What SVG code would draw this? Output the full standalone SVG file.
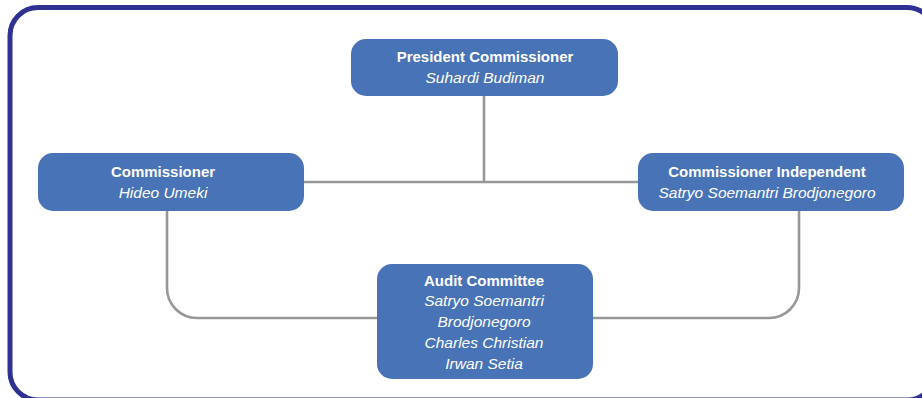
<svg xmlns="http://www.w3.org/2000/svg" width="922" height="398" viewBox="0 0 922 398">
  <style>
    .box { fill: #4873b6; }
    .conn { fill: none; stroke: #979797; stroke-width: 2.6; }
    .t { font-family: "Liberation Sans", Arial, sans-serif; fill: #ffffff; text-anchor: middle; }
    .b { font-weight: bold; font-size: 15px; }
    .i { font-style: italic; font-size: 15.5px; }
  </style>
  <rect x="0" y="0" width="922" height="398" fill="#ffffff"/>
  <rect x="10" y="7.5" width="925" height="392.5" rx="28" ry="28" fill="none" stroke="#2e3192" stroke-width="5"/>
  <g id="connectors">
    <line class="conn" x1="484" y1="96" x2="484" y2="182"/>
    <line class="conn" x1="304" y1="182" x2="638" y2="182"/>
    <path class="conn" d="M167,211 V288 A30,30 0 0 0 197,318 H377"/>
    <path class="conn" d="M799,211 V288 A30,30 0 0 1 769,318 H593"/>
  </g>
  <g id="president">
    <rect class="box" x="351" y="39" width="267" height="57" rx="15"/>
    <text class="t b" x="485" y="62">President Commissioner</text>
    <text class="t i" x="485" y="83">Suhardi Budiman</text>
  </g>
  <g id="commissioner">
    <rect class="box" x="38" y="153" width="266" height="58" rx="15"/>
    <text class="t b" x="163" y="177">Commissioner</text>
    <text class="t i" x="163" y="198">Hideo Umeki</text>
  </g>
  <g id="commissioner-independent">
    <rect class="box" x="638" y="153" width="266" height="58" rx="15"/>
    <text class="t b" x="767" y="177">Commissioner Independent</text>
    <text class="t i" x="767" y="198">Satryo Soemantri Brodjonegoro</text>
  </g>
  <g id="audit-committee">
    <rect class="box" x="377" y="264" width="216" height="115" rx="15"/>
    <text class="t b" x="484" y="286">Audit Committee</text>
    <text class="t i" x="484" y="306">Satryo Soemantri</text>
    <text class="t i" x="484" y="327">Brodjonegoro</text>
    <text class="t i" x="484" y="348">Charles Christian</text>
    <text class="t i" x="484" y="369">Irwan Setia</text>
  </g>
</svg>
